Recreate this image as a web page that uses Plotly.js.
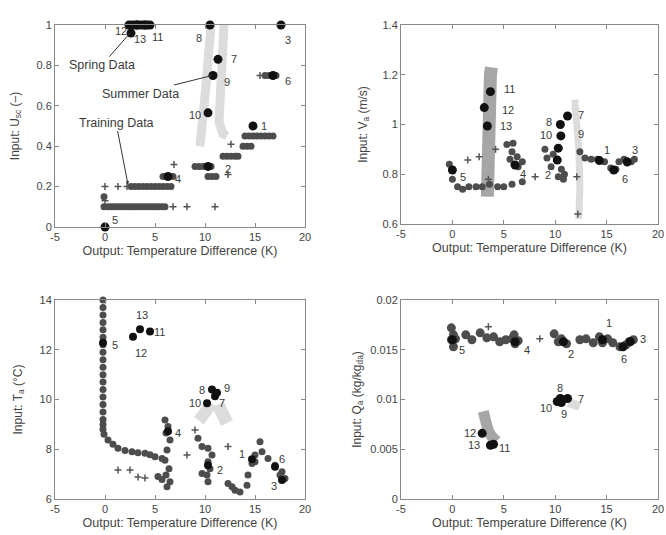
<!DOCTYPE html>
<html>
<head>
<meta charset="utf-8">
<script src="https://cdn.plot.ly/plotly-3.0.1.min.js"></script>
<style>html,body{margin:0;padding:0;background:#fff;}#chart{width:666px;height:535px;}</style>
</head>
<body>
<div id="chart"></div>
<script>
// ---------- shared axis values ----------
const xTickVals = [-5, 0, 5, 10, 15, 20];
const xTickText = ['-5', '0', '5', '10', '15', '20'];
const xLabel = 'Output: Temperature Difference (K)';

// ---------- Panel A: U_sc ----------
const aTrainX = [-0.1,0.3,0.6,0.9,1.2,1.5,1.8,2.1,2.4,2.7,3.0,3.3,3.6,3.9,4.2,4.5,4.8,5.1,5.4,5.7,6.0, -0.1, 2.6,3.0,3.4,3.8,4.2,4.6,5.0,5.4,5.8,6.2,6.6, 5.8,6.1,6.4,6.8, 9.0,9.4,9.8,10.2,10.6, 10.3,10.7,11.1, 11.8,12.2,12.6,13.0,13.3, 13.8,14.2,14.6, 14.0,14.4,14.8,15.2,15.6,16.0,16.4,16.8, 14.8, 16.0,16.4,16.8,17.1];
const aTrainY = [0.1,0.1,0.1,0.1,0.1,0.1,0.1,0.1,0.1,0.1,0.1,0.1,0.1,0.1,0.1,0.1,0.1,0.1,0.1,0.1,0.1, 0.15, 0.2,0.2,0.2,0.2,0.2,0.2,0.2,0.2,0.2,0.2,0.2, 0.25,0.25,0.25,0.25, 0.3,0.3,0.3,0.3,0.3, 0.25,0.25,0.25, 0.35,0.35,0.35,0.35,0.35, 0.4,0.4,0.4, 0.45,0.45,0.45,0.45,0.45,0.45,0.45,0.45, 0.5, 0.75,0.75,0.75,0.75];
const aPlusX = [0.0, 1.3, 2.2, 6.8, 8.2, 11.0, 6.9, 12.3, 12.6, 15.5, 0.0];
const aPlusY = [0.2, 0.2, 0.2, 0.1, 0.1, 0.1, 0.31, 0.26, 0.41, 0.75, 0.13];
const aSpringX = [2.4,2.7,3.0,3.3,3.6,3.9,4.2,4.5];
const aSpringY = [1,1,1,1,1,1,1,1];
const aSummerLeftX = [10.6,10.5,10.3,10.1,9.9,9.7,9.5];
const aSummerLeftY = [1.0,0.9,0.8,0.7,0.6,0.5,0.4];
const aSummerRightX = [11.9,11.8,11.6,11.4,11.3,11.4,11.8,12.2];
const aSummerRightY = [1.0,0.9,0.8,0.7,0.6,0.52,0.46,0.45];
const aNumIds = ['1','2','3','4','5','6','7','8','9','10','11','12','13'];
const aNumX = [14.8,10.3,17.6,6.3,0.0,16.8,11.3,10.5,10.8,10.3,4.0,2.6,3.2];
const aNumY = [0.5,0.3,1.0,0.25,0.0,0.75,0.83,1.0,0.75,0.565,1.0,0.96,1.0];

// ---------- Panel B: V_a ----------
const bTrainX = [-0.3,0.0,0.5,1.0,1.6,2.3,2.9,3.6,4.4,5.0,5.8,6.8, 5.3,5.9,5.8,6.3,5.6,6.8,6.4,6.0, 9.0,9.2,9.8,9.6,10.6,10.8,10.3,10.9,10.2, 12.4,12.9,13.5,14.1,14.8,15.4,15.9,16.2,16.7,17.0,17.4,17.7];
const bTrainY = [0.84,0.78,0.75,0.74,0.75,0.75,0.75,0.76,0.75,0.75,0.76,0.77, 0.92,0.925,0.89,0.87,0.86,0.85,0.83,0.84, 0.90,0.865,0.88,0.83,0.82,0.78,0.79,0.80,0.86, 0.89,0.865,0.86,0.86,0.85,0.825,0.82,0.85,0.86,0.845,0.85,0.86];
const bPlusX = [1.5, 8.05, 12.1, 12.2, 4.2, 2.6, 3.5];
const bPlusY = [0.857, 0.79, 0.79, 0.64, 0.90, 0.87, 0.78];
const bSpringX = [3.4,3.4,3.5,3.5,3.6,3.7,3.8];
const bSpringY = [0.71,0.8,0.9,1.0,1.1,1.2,1.23];
const bSummerX = [12.3,12.4,12.3,12.1,11.9];
const bSummerY = [0.62,0.75,0.9,1.02,1.1];
const bNumIds = ['1','2','3','4','5','6','7','8','9','10','11','12','13'];
const bNumX = [14.3,10.2,17.0,6.1,0.0,15.7,11.2,10.5,10.3,10.55,3.7,3.1,3.4];
const bNumY = [0.855,0.857,0.85,0.837,0.817,0.817,1.034,1.0,0.905,0.954,1.132,1.068,0.994];

// ---------- Panel C: T_a ----------
const cTrainX = [-0.2,-0.2,-0.2,-0.2,-0.2,-0.2,-0.2,-0.2,-0.2,-0.2,-0.2,-0.2,-0.2,-0.2,-0.2,-0.2,-0.2,-0.2,-0.2,-0.1,0.3,0.8,1.3,2.0,2.7,3.3,4.0,4.5,5.0,5.7, 6.0,6.3,6.1,6.5,6.2,6.0,6.4,6.1,6.5,6.2,5.3,5.7, 9.3,9.7,10.3,10.7,10.3,10.5,10.2,10.3,9.7, 12.3,12.7,13.0,13.5,14.2, 14.3,14.7,15.0,15.5,15.7,16.3,17.0,17.7,18.0,17.5,15.0];
const cTrainY = [14.0,13.7,13.4,13.1,12.8,12.5,12.2,11.9,11.6,11.3,11.0,10.7,10.4,10.1,9.8,9.5,9.2,9.0,8.8,8.6,8.37,8.2,8.04,7.95,7.9,7.86,7.84,7.78,7.7,7.63, 9.18,8.91,8.65,8.37,7.97,7.56,7.22,6.96,6.69,6.49,6.9,6.78, 8.44,8.11,8.04,7.77,7.5,7.22,6.96,6.69,7.03, 6.62,6.49,6.35,6.28,6.55, 6.96,7.43,7.77,8.3,7.9,7.63,7.36,7.1,6.82,6.96,7.5];
const cPlusX = [1.3, 2.5, 3.3, 4.0, 8.2, 12.3, 9.0];
const cPlusY = [7.17, 7.17, 6.88, 6.84, 7.77, 8.11, 8.77];
const cSummerLeftX = [9.4,10.0,10.7];
const cSummerLeftY = [9.15,9.5,9.85];
const cSummerRightX = [11.3,11.8,12.2];
const cSummerRightY = [9.8,9.4,9.05];
const cNumIds = ['1','2','3','4','5','6','7','8','9','10','11','12','13'];
const cNumX = [14.7,10.3,17.7,6.3,-0.2,17.0,11.0,10.7,11.2,10.2,4.5,2.8,3.5];
const cNumY = [7.6,7.36,6.76,8.72,12.28,7.3,10.13,10.4,10.27,9.85,12.73,12.52,12.82];

// ---------- Panel D: Q_a ----------
const dTrainX = [-0.1,0.1,-0.1,0.1,0.3,1.3,1.9,2.7,3.35,4.0,4.6,5.2, 6.0,6.1,5.8,6.4, 9.9,10.6,11.1,10.3, 12.4,13.0,13.7,14.3,14.6,15.1,15.6,16.3,16.9,17.2,17.6];
const dTrainY = [0.0172,0.0165,0.0160,0.0153,0.0161,0.0165,0.0160,0.0167,0.0162,0.0163,0.0158,0.0160, 0.0165,0.0156,0.0161,0.0159, 0.0166,0.0161,0.0156,0.0158, 0.0160,0.0161,0.0157,0.0163,0.0157,0.0161,0.0157,0.0153,0.0155,0.0158,0.0160];
const dPlusX = [3.5, 8.5];
const dPlusY = [0.0173, 0.0161];
const dSpringX = [3.0,3.2,3.5,3.9,4.3];
const dSpringY = [0.0088,0.0078,0.0068,0.0062,0.0058];
const dSummerX = [11.3,12.4];
const dSummerY = [0.0097,0.0093];
const dNumIds = ['1','2','3','4','5','6','7','8','9','10','11','12','13'];
const dNumX = [14.6,10.8,17.3,6.1,0.0,16.6,11.2,10.5,10.6,10.2,4.0,2.9,3.7];
const dNumY = [0.0160,0.0158,0.0158,0.0158,0.0160,0.0153,0.0101,0.0101,0.0097,0.0098,0.0055,0.0066,0.0054];

// ---------- y tick labels ----------
const aYTicks = [0, 0.2, 0.4, 0.6, 0.8, 1];
const aYText = ['0', '0.2', '0.4', '0.6', '0.8', '1'];
const bYTicks = [0.6, 0.8, 1, 1.2, 1.4];
const bYText = ['0.6', '0.8', '1', '1.2', '1.4'];
const cYTicks = [6, 8, 10, 12, 14];
const cYText = ['6', '8', '10', '12', '14'];
const dYTicks = [0, 0.005, 0.01, 0.015, 0.02];
const dYText = ['0', '0.005', '0.01', '0.015', '0.02'];

// ---------- styling ----------
const TRAIN = '#4d4d4d', BLACK = '#111', SPRING = '#a6a6a6', SUMMER = '#dcdcdc', TXT = '#3a3a3a';
const traces = [];
function band(x, y, ax, color, w) {
  traces.push({x, y, xaxis: 'x'+ax, yaxis: 'y'+ax, type: 'scatter', mode: 'lines',
    line: {color, width: w, shape: 'linear'}, cliponaxis: false, hoverinfo: 'skip'});
}
function pts(x, y, ax, color, size, symbol) {
  const m = {color, size, symbol: symbol || 'circle'};
  if (symbol === 'cross-thin-open') m.line = {color, width: 1.5};
  traces.push({x, y, xaxis: 'x'+ax, yaxis: 'y'+ax, type: 'scatter', mode: 'markers',
    marker: m, cliponaxis: false});
}
// Panel A
band(aSummerLeftX, aSummerLeftY, '', SUMMER, 9);
band(aSummerRightX, aSummerRightY, '', SUMMER, 9);
pts(aTrainX, aTrainY, '', TRAIN, 7);
pts(aPlusX, aPlusY, '', '#555', 5, 'cross-thin-open');
pts(aSpringX, aSpringY, '', BLACK, 9);
pts(aNumX, aNumY, '', BLACK, 9);
// Panel B
band(bSpringX, bSpringY, '2', SPRING, 13);
band(bSummerX, bSummerY, '2', SUMMER, 7);
pts(bTrainX, bTrainY, '2', TRAIN, 7);
pts(bPlusX, bPlusY, '2', '#555', 5, 'cross-thin-open');
pts(bNumX, bNumY, '2', BLACK, 9);
// Panel C
band(cSummerLeftX, cSummerLeftY, '3', SUMMER, 12);
band(cSummerRightX, cSummerRightY, '3', SUMMER, 13);
pts(cTrainX, cTrainY, '3', TRAIN, 7);
pts(cPlusX, cPlusY, '3', '#555', 5, 'cross-thin-open');
pts(cNumX, cNumY, '3', BLACK, 8);
// Panel D
band(dSpringX, dSpringY, '4', SPRING, 11);
band(dSummerX, dSummerY, '4', SUMMER, 9);
pts(dTrainX, dTrainY, '4', TRAIN, 9);
pts(dPlusX, dPlusY, '4', '#555', 5, 'cross-thin-open');
pts(dNumX, dNumY, '4', BLACK, 9);

// label pixel offsets [dx, dy] for points 1..13 in each panel
const aOff = [[11,0],[20,-3],[7,-15],[10,-2],[10,7],[15,-5],[16,0],[-11,-13],[14,-6],[-13,-2],[12,-12],[-10,2],[3,-14]];
const bOff = [[8,11],[-9,-15],[8,12],[8,-9],[11,-7],[11,-9],[13,1],[-11,3],[23,14],[-15,1],[19,3],[24,-2],[19,0]];
const cOff = [[-10,5],[12,-5],[-8,-6],[10,-2],[12,-2],[7,8],[7,-7],[-10,0],[10,5],[-12,0],[9,0],[8,-16],[2,14]];
const dOff = [[7,17],[8,-12],[13,3],[12,-8],[10,-10],[1,-12],[13,0],[0,11],[3,-12],[-11,-7],[11,-4],[-12,0],[-16,0]];

const annotations = [];
function labels(ids, xs, ys, off, ax) {
  ids.forEach((t, i) => annotations.push({x: xs[i], y: ys[i], xref: 'x'+ax, yref: 'y'+ax, text: t,
    showarrow: false, xshift: off[i][0], yshift: off[i][1], font: {size: 11, color: TXT}}));
}
labels(aNumIds, aNumX, aNumY, aOff, '');
labels(bNumIds, bNumX, bNumY, bOff, '2');
labels(cNumIds, cNumX, cNumY, cOff, '3');
labels(dNumIds, dNumX, dNumY, dOff, '4');

// data-set callouts in panel A
annotations.push({x: 2.5, y: 0.96, xref: 'x', yref: 'y', text: 'Spring Data', showarrow: true,
  arrowhead: 0, arrowwidth: 1, arrowcolor: '#333', ax: -28, ay: 32, font: {size: 12.5, color: TXT}});
annotations.push({x: 10.7, y: 0.75, xref: 'x', yref: 'y', text: 'Summer Data', showarrow: true,
  arrowhead: 2, arrowsize: 0.7, arrowwidth: 1, arrowcolor: '#333', ax: -72, ay: 18, font: {size: 12.5, color: TXT}});
annotations.push({x: 2.3, y: 0.21, xref: 'x', yref: 'y', text: 'Training Data', showarrow: true,
  arrowhead: 2, arrowsize: 0.7, arrowwidth: 1, arrowcolor: '#333', ax: -12, ay: -62, font: {size: 12.5, color: TXT}});

function xa(domain, anchor) {
  return {domain, anchor, range: [-5, 20], tickvals: xTickVals, ticktext: xTickText,
    ticks: 'inside', ticklen: 4, tickcolor: '#888', showline: true, linecolor: '#888', linewidth: 1,
    mirror: 'ticks', showgrid: false, zeroline: false, tickfont: {size: 11, color: '#444'},
    title: {text: xLabel, font: {size: 12.5, color: '#444'}, standoff: 4}};
}
function ya(domain, anchor, range, tv, tt, title, so) {
  return {domain, anchor, range, tickvals: tv, ticktext: tt,
    ticks: 'inside', ticklen: 4, tickcolor: '#888', showline: true, linecolor: '#888', linewidth: 1,
    mirror: 'ticks', showgrid: false, zeroline: false, tickfont: {size: 11, color: '#444'},
    title: {text: title, font: {size: 12, color: '#444'}, standoff: so}};
}
const xL = [55/666, 305/666], xR = [401/666, 658/666];
const yT = [1-227/535, 1-25/535], yTR = [1-224/535, 1-25/535], yB = [1-499/535, 1-300/535];
const layout = {
  width: 666, height: 535, margin: {l: 0, r: 0, t: 0, b: 0},
  paper_bgcolor: '#fff', plot_bgcolor: '#fff', showlegend: false,
  font: {family: 'Liberation Sans, Arial, sans-serif', size: 11, color: '#444'},
  xaxis: xa(xL, 'y'), yaxis: ya(yT, 'x', [0, 1], aYTicks, aYText, 'Input: U<sub>sc</sub> (–)', 14),
  xaxis2: xa(xR, 'y2'), yaxis2: ya(yTR, 'x2', [0.6, 1.4], bYTicks, bYText, 'Input: V<sub>a</sub> (m/s)', 12),
  xaxis3: xa(xL, 'y3'), yaxis3: ya(yB, 'x3', [6, 14], cYTicks, cYText, 'Input: T<sub>a</sub> (°C)', 14),
  xaxis4: xa(xR, 'y4'), yaxis4: ya(yB, 'x4', [0, 0.02], dYTicks, dYText, 'Input: Q<sub>a</sub> (kg/kg<sub>da</sub>)', 6),
  annotations
};
Plotly.newPlot('chart', traces, layout, {displayModeBar: false, staticPlot: true});
</script>
</body>
</html>
